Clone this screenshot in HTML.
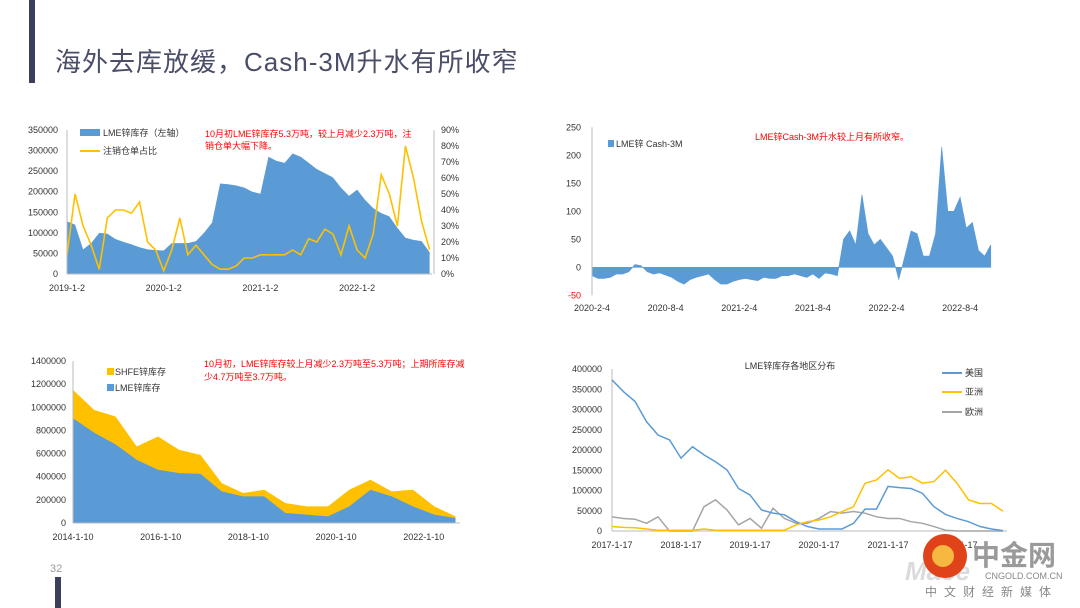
<!DOCTYPE html>
<html><head><meta charset="utf-8">
<style>
html,body{margin:0;padding:0;background:#fff;}
svg{display:block;font-family:"Liberation Sans","Noto Sans CJK SC",sans-serif;}
.t{font-size:9px;fill:#333;}
.red{font-size:9px;fill:#ff0000;}
</style></head>
<body>
<svg id="s" width="1080" height="608" viewBox="0 0 1080 608" xmlns="http://www.w3.org/2000/svg">
<rect x="29" y="0" width="6" height="83" fill="#3b3f5c"/>
<text x="55" y="71" font-size="26" letter-spacing="1" fill="#4a4e69">海外去库放缓，Cash-3M升水有所收窄</text>
<text x="50" y="572" font-size="11" fill="#999">32</text>
<rect x="55" y="577" width="6" height="31" fill="#3b3f5c"/>
<g id="c1"></g>
<g id="c2"></g>
<g id="c3"></g>
<g id="c4"></g>
<g>
<text x="905" y="580" font-size="26" font-style="italic" font-weight="bold" fill="#ccc" opacity="0.7">Mace</text>
<circle cx="945" cy="556" r="22" fill="#e0421a"/>
<circle cx="943" cy="556" r="11" fill="#f6b840"/>
<text x="972" y="565" font-size="28" font-weight="bold" fill="#9a9a9a">中金网</text>
<text x="985" y="579" font-size="9" fill="#888">CNGOLD.COM.CN</text>
<text x="925" y="596" font-size="12" fill="#888" letter-spacing="7">中文财经新媒体</text>
</g>
</svg>
<script>
// ---------- Chart 1 data (monthly from 2019-01) ----------
const c1Stock = [128000,120000,60000,75000,100000,98000,85000,78000,72000,65000,60000,58000,
 57000,75000,75000,75000,80000,100000,125000,220000,218000,215000,210000,200000,
 195000,285000,275000,270000,293000,285000,270000,255000,245000,235000,210000,190000,
 205000,180000,160000,148000,140000,112000,88000,83000,80000,53000];
const c1Ratio = [12,50,30,18,3,35,40,40,38,45,20,15, 2,15,35,12,18,12,6,3,3,5,10,10,
 12,12,12,12,15,12,22,20,28,25,12,30, 15,10,25,62,50,30,80,60,33,15];
const c1LeftTicks = [0,50000,100000,150000,200000,250000,300000,350000];
const c1RightTicks = ["0%","10%","20%","30%","40%","50%","60%","70%","80%","90%"];
const c1XLabels = ["2019-1-2","2020-1-2","2021-1-2","2022-1-2"];

// ---------- Chart 2 data (half-yearly from 2014-01) ----------
const c2LME = [905000,780000,680000,546000,460000,431000,425000,273000,230000,230000,86000,72000,57000,144000,287000,230000,144000,72000,43000];
const c2SHFE = [245000,197000,240000,115000,287000,201000,164000,72000,29000,57000,86000,72000,87000,143000,87000,43000,143000,72000,14000];
const c2Ticks = [0,200000,400000,600000,800000,1000000,1200000,1400000];
const c2XLabels = ["2014-1-10","2016-1-10","2018-1-10","2020-1-10","2022-1-10"];

// ---------- Chart 3 data (half-monthly from 2020-02) ----------
const c3Cash = [-15,-20,-20,-18,-12,-12,-8,5,3,-8,-12,-10,-14,-18,-25,-30,-22,-18,-15,-12,-22,-30,-30,-25,-22,-20,-22,-24,-18,-20,-20,-15,-15,-12,-15,-18,-12,-20,
 -10,-12,-15,50,65,40,130,60,40,50,35,20,-22,20,65,60,20,20,60,215,100,100,125,70,80,30,20,40];
const c3Ticks = [-50,0,50,100,150,200,250];
const c3XLabels = ["2020-2-4","2020-8-4","2021-2-4","2021-8-4","2022-2-4","2022-8-4"];

// ---------- Chart 4 data (bi-monthly from 2017-01) ----------
const c4US = [373000,344000,320000,270000,237000,225000,180000,208000,188000,171000,151000,105000,89000,52000,44000,40000,23000,11000,5000,5000,5000,19000,54000,54000,110000,107000,105000,93000,60000,41000,31000,23000,11000,5000,1000];
const c4Asia = [11000,9000,8000,5000,2000,2000,2000,2000,5000,2000,2000,2000,2000,2000,2000,2000,15000,23000,27000,35000,48000,60000,118000,126000,151000,130000,134000,118000,122000,150000,118000,77000,68000,68000,49000];
const c4EU = [35000,31000,29000,19000,35000,0,0,0,60000,77000,52000,15000,31000,7000,56000,31000,19000,19000,31000,48000,44000,48000,44000,35000,31000,31000,23000,19000,11000,2000,0,0,0,0,0];
const c4Ticks = [0,50000,100000,150000,200000,250000,300000,350000,400000];
const c4XLabels = ["2017-1-17","2018-1-17","2019-1-17","2020-1-17","2021-1-17","2022-1-17"];

const NS="http://www.w3.org/2000/svg";
function mk(parent,tag,attrs,txt){const e=document.createElementNS(NS,tag);for(const k in attrs)e.setAttribute(k,attrs[k]);if(txt!==undefined)e.textContent=txt;parent.appendChild(e);return e;}

// ===== Chart 1 =====
(function(){
 const g=document.getElementById('c1');
 const x0=67,x1=432,y0=274,yTop=130;
 const pxM=96.7/12;
 const X=i=>x0+i*pxM;
 const YL=v=>y0-(v/350000)*(y0-yTop);
 const YR=p=>y0-(p/90)*(y0-yTop);
 let d=`M${X(0)},${y0}`;
 c1Stock.forEach((v,i)=>{d+=` L${X(i)},${YL(v)}`;});
 d+=` L${X(c1Stock.length-1)},${y0} Z`;
 const a=mk(g,'path',{d:d,fill:'#5b9bd5'});
 
 
 const l=mk(g,'polyline',{points:c1Ratio.map((p,i)=>`${X(i)},${YR(p)}`).join(' '),fill:'none',stroke:'#ffc000','stroke-width':1.6});
 
 
 mk(g,'line',{x1:x0,y1:yTop,x2:x0,y2:y0,stroke:'#bbb'});
 mk(g,'line',{x1:x0,y1:y0,x2:x1,y2:y0,stroke:'#bbb'});
 mk(g,'line',{x1:x1+2,y1:yTop,x2:x1+2,y2:y0,stroke:'#bbb'});
 c1LeftTicks.forEach(v=>{const t=mk(g,'text',{x:x0-9,y:YL(v)+3,'text-anchor':'end',class:'t'},String(v));
  });
 c1RightTicks.forEach((s,i)=>{const t=mk(g,'text',{x:x1+9,y:YR(i*10)+3,class:'t'},s);
  });
 c1XLabels.forEach((s,i)=>{const t=mk(g,'text',{x:X(i*12),y:291,'text-anchor':'middle',class:'t'},s);
  });
 mk(g,'rect',{x:80,y:129,width:20,height:7,fill:'#5b9bd5'});
 const lg1=mk(g,'text',{x:103,y:136,class:'t'},'LME锌库存（左轴）');
 
 mk(g,'line',{x1:80,y1:151,x2:100,y2:151,stroke:'#ffc000','stroke-width':2});
 const lg2=mk(g,'text',{x:103,y:154,class:'t'},'注销仓单占比');
 
 const n1=mk(g,'text',{x:205,y:137,class:'red'},'10月初LME锌库存5.3万吨，较上月减少2.3万吨，注');
 
 mk(g,'text',{x:205,y:149,class:'red'},'销仓单大幅下降。');
})();

// ===== Chart 2 =====
(function(){
 const g=document.getElementById('c2');
 const x0=73,y0=523,yTop=361,pxY=42.5;
 const X=i=>x0+i*pxY/2;
 const Y=v=>y0-(v/1400000)*(y0-yTop);
 const n=c2LME.length;
 let dT=`M${X(0)},${y0}`;c2LME.forEach((v,i)=>{dT+=` L${X(i)},${Y(v+c2SHFE[i])}`;});dT+=` L${X(n-1)},${y0} Z`;
 const a1=mk(g,'path',{d:dT,fill:'#ffc000'});
 
 let dL=`M${X(0)},${y0}`;c2LME.forEach((v,i)=>{dL+=` L${X(i)},${Y(v)}`;});dL+=` L${X(n-1)},${y0} Z`;
 const a2=mk(g,'path',{d:dL,fill:'#5b9bd5'});
 
 mk(g,'line',{x1:x0,y1:yTop,x2:x0,y2:y0,stroke:'#bbb'});
 mk(g,'line',{x1:x0,y1:y0,x2:460,y2:y0,stroke:'#bbb'});
 c2Ticks.forEach(v=>{const t=mk(g,'text',{x:x0-7,y:Y(v)+3,'text-anchor':'end',class:'t'},String(v));
  });
 c2XLabels.forEach((s,i)=>{const t=mk(g,'text',{x:73+i*87.7,y:540,'text-anchor':'middle',class:'t'},s);
  });
 mk(g,'rect',{x:107,y:368,width:7,height:7,fill:'#ffc000'});
 const l1=mk(g,'text',{x:115,y:375,class:'t'},'SHFE锌库存');
 
 mk(g,'rect',{x:107,y:384,width:7,height:7,fill:'#5b9bd5'});
 const l2=mk(g,'text',{x:115,y:391,class:'t'},'LME锌库存');
 
 const n1=mk(g,'text',{x:204,y:367,class:'red'},'10月初，LME锌库存较上月减少2.3万吨至5.3万吨；上期所库存减');
 
 mk(g,'text',{x:204,y:380,class:'red'},'少4.7万吨至3.7万吨。');
})();

// ===== Chart 3 =====
(function(){
 const g=document.getElementById('c3');
 const x0=592,y0=267.3,pxMonth=12.27;
 const X=k=>x0+k*pxMonth/2;
 const Y=v=>y0-v*(28/50);
 const n=c3Cash.length;
 let d=`M${X(0)},${y0}`;c3Cash.forEach((v,k)=>{d+=` L${X(k)},${Y(v)}`;});d+=` L${X(n-1)},${y0} Z`;
 const a=mk(g,'path',{d:d,fill:'#5b9bd5',stroke:'#5b9bd5','stroke-width':0.6});
 
 mk(g,'line',{x1:x0,y1:Y(250),x2:x0,y2:Y(-50),stroke:'#bbb'});
 c3Ticks.forEach(v=>{const t=mk(g,'text',{x:x0-11,y:Y(v)+3,'text-anchor':'end',class:v<0?'red':'t'},String(v));
  });
 c3XLabels.forEach((s,i)=>{const t=mk(g,'text',{x:X(i*12),y:311,'text-anchor':'middle',class:'t'},s);
  });
 mk(g,'rect',{x:608,y:140,width:6,height:7,fill:'#5b9bd5'});
 const l=mk(g,'text',{x:616,y:147,class:'t'},'LME锌 Cash-3M');
 
 const n1=mk(g,'text',{x:755,y:140,class:'red'},'LME锌Cash-3M升水较上月有所收窄。');
 
})();

// ===== Chart 4 =====
(function(){
 const g=document.getElementById('c4');
 const x0=612,y0=531,pxYear=69;
 const X=i=>x0+i*pxYear/6;
 const Y=v=>y0-v*(20.25/50000);
 mk(g,'line',{x1:x0,y1:Y(400000),x2:x0,y2:y0,stroke:'#bbb'});
 mk(g,'line',{x1:x0,y1:y0,x2:1007,y2:y0,stroke:'#bbb'});
 c4Ticks.forEach(v=>{const t=mk(g,'text',{x:x0-10,y:Y(v)+3,'text-anchor':'end',class:'t'},String(v));
  });
 c4XLabels.forEach((s,i)=>{const t=mk(g,'text',{x:X(i*6),y:548,'text-anchor':'middle',class:'t'},s);
  });
 const ser=[[c4EU,'#a5a5a5','europe-line'],[c4US,'#5b9bd5','usa-line'],[c4Asia,'#ffc000','asia-line']];
 ser.forEach(([arr,col,nm])=>{
  const p=mk(g,'polyline',{points:arr.map((v,i)=>`${X(i)},${Y(v)}`).join(' '),fill:'none',stroke:col,'stroke-width':1.5});
  
  
 });
 const tt=mk(g,'text',{x:790,y:369,'text-anchor':'middle',class:'t'},'LME锌库存各地区分布');
 
 const leg=[['美国','#5b9bd5',373],['亚洲','#ffc000',392],['欧洲','#a5a5a5',412]];
 leg.forEach(([s,c,y])=>{
  mk(g,'line',{x1:942,y1:y,x2:962,y2:y,stroke:c,'stroke-width':2});
  const t=mk(g,'text',{x:965,y:y+3,class:'t'},s);
  
  
 });
})();
</script>
</body></html>
